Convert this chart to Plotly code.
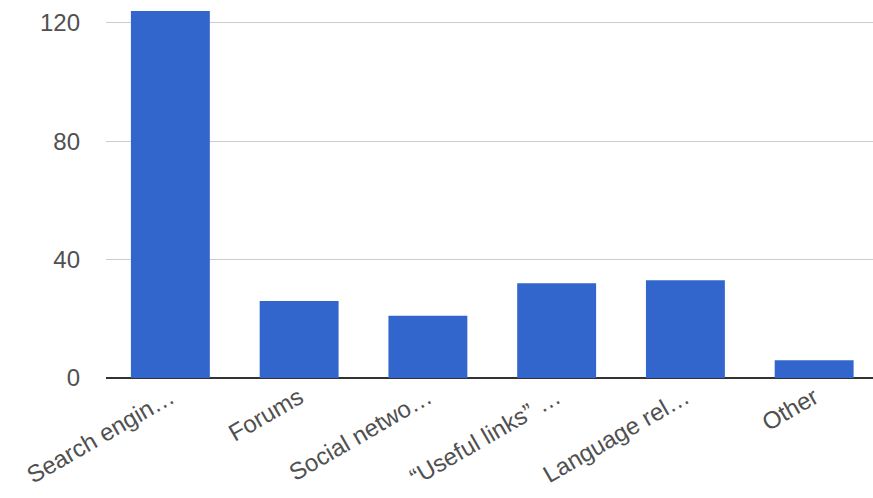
import plotly.graph_objects as go

categories = ["Search engin…", "Forums", "Social netwo…", "\u201cUseful links\u201d …", "Language rel…", "Other"]
values = [124, 26, 21, 32, 33, 6]
y_ticks = [0, 40, 80, 120]

fig = go.Figure(go.Bar(x=list(range(len(categories))), y=values, marker=dict(color="#3366cc", line=dict(width=0))))

fig.update_layout(
    width=873, height=498,
    margin=dict(l=106, r=0, t=0, b=120),
    plot_bgcolor="white", paper_bgcolor="white",
    bargap=0.387,
    showlegend=False,
    font=dict(family="Liberation Sans, Arial", size=24, color="#505050"),
)
fig.update_xaxes(
    tickmode="array", tickvals=list(range(len(categories))), ticktext=categories,
    range=[-0.5, 5.457], tickangle=-30, showgrid=False, zeroline=False,
    showline=False, ticks="",
)
fig.update_yaxes(
    range=[0, 127.7], tickvals=y_ticks, showgrid=True, gridcolor="#cccccc", gridwidth=1,
    zeroline=True, zerolinecolor="#333333", zerolinewidth=2, ticks="",
    ticklabelstandoff=25,
)
fig.write_html("out.html")
